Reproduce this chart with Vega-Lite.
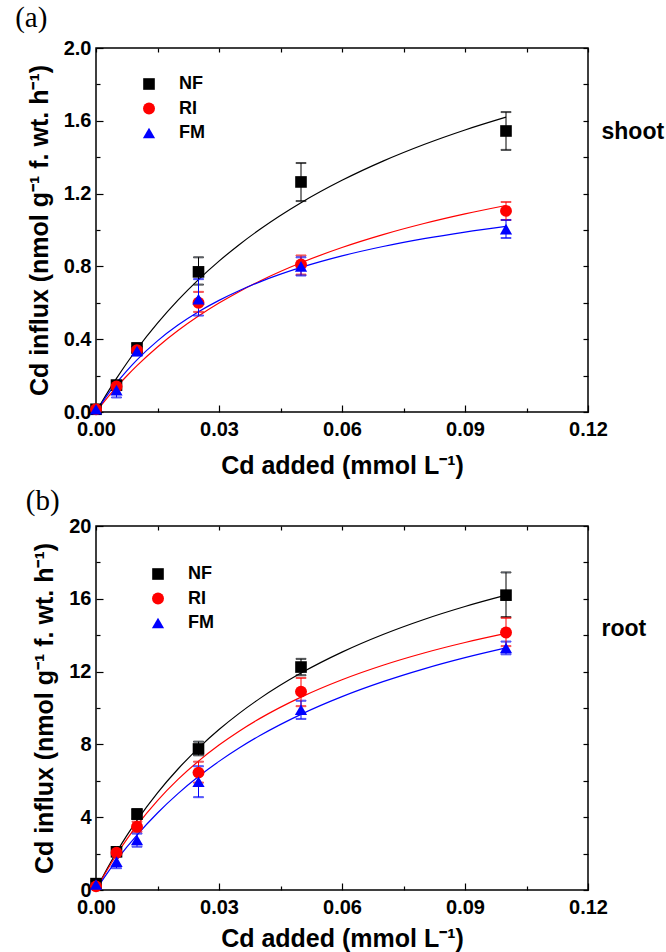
{
  "$schema": "https://vega.github.io/schema/vega-lite/v6.json",
  "background": "white",
  "padding": {"left": 14, "top": 3, "right": 0, "bottom": 0},
  "config": {
    "view": {"stroke": "black", "strokeWidth": 1.5},
    "font": "Liberation Sans",
    "axis": {
      "labelFont": "Liberation Sans", "labelFontWeight": "bold", "labelFontSize": 20, "labelColor": "black",
      "titleFont": "Liberation Sans", "titleFontWeight": "bold", "titleFontSize": 25, "titleColor": "black",
      "grid": false, "domain": false, "tickColor": "black", "tickWidth": 1.2, "labelOverlap": false, "labelFlush": false
    },
    "legend": {
      "labelFont": "Liberation Sans", "labelFontWeight": "bold", "labelFontSize": 18, "labelColor": "black",
      "symbolStrokeWidth": 0, "padding": 0, "rowPadding": 6.5, "labelOffset": 21, "symbolSize": 150
    },
    "title": {"font": "Liberation Serif", "fontSize": 29, "fontWeight": "normal", "anchor": "start", "frame": "bounds", "color": "black"}
  },
  "datasets": {
    "shootPts": [
      {"series": "NF", "x": 0, "y": 0.015, "lo": 0.005, "hi": 0.025},
      {"series": "NF", "x": 0.005, "y": 0.148, "lo": 0.13, "hi": 0.17},
      {"series": "NF", "x": 0.01, "y": 0.352, "lo": 0.33, "hi": 0.375},
      {"series": "NF", "x": 0.025, "y": 0.77, "lo": 0.70, "hi": 0.85},
      {"series": "NF", "x": 0.05, "y": 1.264, "lo": 1.159, "hi": 1.368},
      {"series": "NF", "x": 0.1, "y": 1.544, "lo": 1.44, "hi": 1.648},
      {"series": "RI", "x": 0, "y": 0.015, "lo": 0.005, "hi": 0.025},
      {"series": "RI", "x": 0.005, "y": 0.14, "lo": 0.12, "hi": 0.16},
      {"series": "RI", "x": 0.01, "y": 0.34, "lo": 0.32, "hi": 0.36},
      {"series": "RI", "x": 0.025, "y": 0.60, "lo": 0.55, "hi": 0.66},
      {"series": "RI", "x": 0.05, "y": 0.81, "lo": 0.755, "hi": 0.86},
      {"series": "RI", "x": 0.1, "y": 1.105, "lo": 1.055, "hi": 1.154},
      {"series": "FM", "x": 0, "y": 0.015, "lo": 0.005, "hi": 0.025},
      {"series": "FM", "x": 0.005, "y": 0.12, "lo": 0.08, "hi": 0.16},
      {"series": "FM", "x": 0.01, "y": 0.335, "lo": 0.31, "hi": 0.36},
      {"series": "FM", "x": 0.025, "y": 0.62, "lo": 0.53, "hi": 0.73},
      {"series": "FM", "x": 0.05, "y": 0.80, "lo": 0.75, "hi": 0.85},
      {"series": "FM", "x": 0.1, "y": 1.005, "lo": 0.956, "hi": 1.055}
    ],
    "rootPts": [
      {"series": "NF", "x": 0, "y": 0.35, "lo": 0.2, "hi": 0.5},
      {"series": "NF", "x": 0.005, "y": 2.1, "lo": 1.9, "hi": 2.3},
      {"series": "NF", "x": 0.01, "y": 4.17, "lo": 3.9, "hi": 4.45},
      {"series": "NF", "x": 0.025, "y": 7.75, "lo": 7.4, "hi": 8.15},
      {"series": "NF", "x": 0.05, "y": 12.25, "lo": 11.8, "hi": 12.7},
      {"series": "NF", "x": 0.1, "y": 16.2, "lo": 15.0, "hi": 17.45},
      {"series": "RI", "x": 0, "y": 0.2, "lo": 0.1, "hi": 0.3},
      {"series": "RI", "x": 0.005, "y": 2.05, "lo": 1.85, "hi": 2.25},
      {"series": "RI", "x": 0.01, "y": 3.48, "lo": 3.2, "hi": 3.75},
      {"series": "RI", "x": 0.025, "y": 6.45, "lo": 5.9, "hi": 7.05},
      {"series": "RI", "x": 0.05, "y": 10.9, "lo": 10.1, "hi": 11.65},
      {"series": "RI", "x": 0.1, "y": 14.15, "lo": 13.4, "hi": 14.95},
      {"series": "FM", "x": 0, "y": 0.3, "lo": 0.1, "hi": 0.5},
      {"series": "FM", "x": 0.005, "y": 1.56, "lo": 1.2, "hi": 1.9},
      {"series": "FM", "x": 0.01, "y": 2.75, "lo": 2.38, "hi": 3.1},
      {"series": "FM", "x": 0.025, "y": 5.95, "lo": 5.1, "hi": 6.8},
      {"series": "FM", "x": 0.05, "y": 9.9, "lo": 9.4, "hi": 10.4},
      {"series": "FM", "x": 0.1, "y": 13.3, "lo": 12.95, "hi": 13.65}
    ],
    "shootFit": [
      {"series": "NF", "x": 0, "y": 0}, {"series": "NF", "x": 0.0025, "y": 0.0956}, {"series": "NF", "x": 0.005, "y": 0.1847}, {"series": "NF", "x": 0.0075, "y": 0.268}, {"series": "NF", "x": 0.01, "y": 0.3461}, {"series": "NF", "x": 0.015, "y": 0.4883}, {"series": "NF", "x": 0.02, "y": 0.6146}, {"series": "NF", "x": 0.025, "y": 0.7274}, {"series": "NF", "x": 0.03, "y": 0.8289}, {"series": "NF", "x": 0.035, "y": 0.9207}, {"series": "NF", "x": 0.04, "y": 1.004}, {"series": "NF", "x": 0.05, "y": 1.1498}, {"series": "NF", "x": 0.06, "y": 1.2729}, {"series": "NF", "x": 0.07, "y": 1.3784}, {"series": "NF", "x": 0.08, "y": 1.4697}, {"series": "NF", "x": 0.09, "y": 1.5496}, {"series": "NF", "x": 0.1, "y": 1.62},
      {"series": "RI", "x": 0, "y": 0}, {"series": "RI", "x": 0.0025, "y": 0.0711}, {"series": "RI", "x": 0.005, "y": 0.1369}, {"series": "RI", "x": 0.0075, "y": 0.1979}, {"series": "RI", "x": 0.01, "y": 0.2548}, {"series": "RI", "x": 0.015, "y": 0.3574}, {"series": "RI", "x": 0.02, "y": 0.4476}, {"series": "RI", "x": 0.025, "y": 0.5275}, {"series": "RI", "x": 0.03, "y": 0.5987}, {"series": "RI", "x": 0.035, "y": 0.6626}, {"series": "RI", "x": 0.04, "y": 0.7202}, {"series": "RI", "x": 0.05, "y": 0.8201}, {"series": "RI", "x": 0.06, "y": 0.9037}, {"series": "RI", "x": 0.07, "y": 0.9746}, {"series": "RI", "x": 0.08, "y": 1.0356}, {"series": "RI", "x": 0.09, "y": 1.0885}, {"series": "RI", "x": 0.1, "y": 1.1349},
      {"series": "FM", "x": 0, "y": 0}, {"series": "FM", "x": 0.0025, "y": 0.0844}, {"series": "FM", "x": 0.005, "y": 0.1594}, {"series": "FM", "x": 0.0075, "y": 0.2264}, {"series": "FM", "x": 0.01, "y": 0.2867}, {"series": "FM", "x": 0.015, "y": 0.3908}, {"series": "FM", "x": 0.02, "y": 0.4774}, {"series": "FM", "x": 0.025, "y": 0.5506}, {"series": "FM", "x": 0.03, "y": 0.6133}, {"series": "FM", "x": 0.035, "y": 0.6677}, {"series": "FM", "x": 0.04, "y": 0.7152}, {"series": "FM", "x": 0.05, "y": 0.7943}, {"series": "FM", "x": 0.06, "y": 0.8576}, {"series": "FM", "x": 0.07, "y": 0.9093}, {"series": "FM", "x": 0.08, "y": 0.9524}, {"series": "FM", "x": 0.09, "y": 0.9888}, {"series": "FM", "x": 0.1, "y": 1.02}
    ],
    "rootFit": [
      {"series": "NF", "x": 0, "y": 0}, {"series": "NF", "x": 0.0025, "y": 1.08}, {"series": "NF", "x": 0.005, "y": 2.071}, {"series": "NF", "x": 0.0075, "y": 2.985}, {"series": "NF", "x": 0.01, "y": 3.829}, {"series": "NF", "x": 0.015, "y": 5.339}, {"series": "NF", "x": 0.02, "y": 6.65}, {"series": "NF", "x": 0.025, "y": 7.799}, {"series": "NF", "x": 0.03, "y": 8.815}, {"series": "NF", "x": 0.035, "y": 9.719}, {"series": "NF", "x": 0.04, "y": 10.529}, {"series": "NF", "x": 0.05, "y": 11.92}, {"series": "NF", "x": 0.06, "y": 13.071}, {"series": "NF", "x": 0.07, "y": 14.039}, {"series": "NF", "x": 0.08, "y": 14.865}, {"series": "NF", "x": 0.09, "y": 15.577}, {"series": "NF", "x": 0.1, "y": 16.199},
      {"series": "RI", "x": 0, "y": 0}, {"series": "RI", "x": 0.0025, "y": 1.016}, {"series": "RI", "x": 0.005, "y": 1.938}, {"series": "RI", "x": 0.0075, "y": 2.779}, {"series": "RI", "x": 0.01, "y": 3.55}, {"series": "RI", "x": 0.015, "y": 4.911}, {"series": "RI", "x": 0.02, "y": 6.075}, {"series": "RI", "x": 0.025, "y": 7.083}, {"series": "RI", "x": 0.03, "y": 7.963}, {"series": "RI", "x": 0.035, "y": 8.74}, {"series": "RI", "x": 0.04, "y": 9.429}, {"series": "RI", "x": 0.05, "y": 10.599}, {"series": "RI", "x": 0.06, "y": 11.555}, {"series": "RI", "x": 0.07, "y": 12.351}, {"series": "RI", "x": 0.08, "y": 13.024}, {"series": "RI", "x": 0.09, "y": 13.6}, {"series": "RI", "x": 0.1, "y": 14.099},
      {"series": "FM", "x": 0, "y": 0}, {"series": "FM", "x": 0.0025, "y": 0.845}, {"series": "FM", "x": 0.005, "y": 1.625}, {"series": "FM", "x": 0.0075, "y": 2.349}, {"series": "FM", "x": 0.01, "y": 3.021}, {"series": "FM", "x": 0.015, "y": 4.233}, {"series": "FM", "x": 0.02, "y": 5.295}, {"series": "FM", "x": 0.025, "y": 6.233}, {"series": "FM", "x": 0.03, "y": 7.067}, {"series": "FM", "x": 0.035, "y": 7.815}, {"series": "FM", "x": 0.04, "y": 8.488}, {"series": "FM", "x": 0.05, "y": 9.652}, {"series": "FM", "x": 0.06, "y": 10.624}, {"series": "FM", "x": 0.07, "y": 11.447}, {"series": "FM", "x": 0.08, "y": 12.153}, {"series": "FM", "x": 0.09, "y": 12.766}, {"series": "FM", "x": 0.1, "y": 13.302}
    ]
  },
  "spacing": 7,
  "resolve": {"scale": {"color": "independent", "shape": "independent", "size": "independent"}, "legend": {"color": "independent", "shape": "independent", "size": "independent"}},
  "vconcat": [
    {
      "width": 492, "height": 364,
      "title": {"text": "(a)", "dx": -12, "offset": 5},
      "resolve": {"axis": {"x": "independent", "y": "independent"}},
      "layer": [
        {
          "data": {"name": "shootFit"},
          "mark": {"type": "line", "strokeWidth": 1.2, "interpolate": "monotone"},
          "encoding": {
            "x": {"field": "x", "type": "quantitative", "scale": {"domain": [0, 0.12], "nice": false},
              "axis": {"orient": "bottom", "values": [0, 0.015, 0.03, 0.045, 0.06, 0.075, 0.09, 0.105, 0.12],
                "labelExpr": "abs(datum.value/0.03 - round(datum.value/0.03)) < 0.001 ? format(datum.value, '.2f') : ''",
                "tickSize": {"condition": {"test": "abs(datum.value/0.03 - round(datum.value/0.03)) < 0.001", "value": -7}, "value": -4},
                "labelPadding": 14, "titlePadding": 11, "title": "Cd added (mmol L⁻¹)"}},
            "y": {"field": "y", "type": "quantitative", "scale": {"domain": [0, 2], "nice": false},
              "axis": {"orient": "left", "values": [0, 0.2, 0.4, 0.6, 0.8, 1.0, 1.2, 1.4, 1.6, 1.8, 2.0],
                "labelExpr": "abs(datum.value/0.4 - round(datum.value/0.4)) < 0.001 ? format(datum.value, '.1f') : ''",
                "tickSize": {"condition": {"test": "abs(datum.value/0.4 - round(datum.value/0.4)) < 0.001", "value": -7}, "value": -4},
                "labelPadding": 12, "titlePadding": 11, "title": "Cd influx (nmol g⁻¹ f. wt. h⁻¹)"}},
            "stroke": {"field": "series", "type": "nominal", "scale": {"domain": ["NF", "RI", "FM"], "range": ["#000000", "#ff0000", "#0000ff"]}, "legend": null}
          }
        },
        {
          "data": {"name": "shootPts"},
          "mark": {"type": "errorbar", "ticks": {"size": 10, "thickness": 1}, "thickness": 1},
          "encoding": {
            "x": {"field": "x", "type": "quantitative", "scale": {"domain": [0, 0.12], "nice": false}, "axis": null},
            "y": {"field": "lo", "type": "quantitative", "scale": {"domain": [0, 2], "nice": false}, "axis": null},
            "y2": {"field": "hi"},
            "stroke": {"field": "series", "type": "nominal", "scale": {"domain": ["NF", "RI", "FM"], "range": ["#000000", "#ff0000", "#0000ff"]}, "legend": null}
          }
        },
        {
          "data": {"name": "shootPts"},
          "mark": {"type": "point", "filled": true, "opacity": 1},
          "encoding": {
            "x": {"field": "x", "type": "quantitative", "scale": {"domain": [0, 0.12], "nice": false},
              "axis": {"orient": "top", "values": [0, 0.015, 0.03, 0.045, 0.06, 0.075, 0.09, 0.105, 0.12], "labels": false, "tickSize": -4, "title": null}},
            "y": {"field": "y", "type": "quantitative", "scale": {"domain": [0, 2], "nice": false},
              "axis": {"orient": "right", "values": [0, 0.2, 0.4, 0.6, 0.8, 1.0, 1.2, 1.4, 1.6, 1.8, 2.0], "labels": false, "tickSize": -5,
                "title": "shoot", "titleAngle": 0, "titleAlign": "left", "titleBaseline": "middle", "titleX": 13, "titleY": 83, "titleFontSize": 23}},
            "color": {"field": "series", "type": "nominal", "scale": {"domain": ["NF", "RI", "FM"], "range": ["#000000", "#ff0000", "#0000ff"]},
              "legend": {"orient": "none", "legendX": 44, "legendY": 27, "title": null}},
            "shape": {"field": "series", "type": "nominal", "scale": {"domain": ["NF", "RI", "FM"], "range": ["square", "circle", "triangle-up"]},
              "legend": {"orient": "none", "legendX": 44, "legendY": 27, "title": null}},
            "size": {"field": "series", "type": "nominal", "scale": {"domain": ["NF", "RI", "FM"], "range": [135, 150, 195]},
              "legend": {"orient": "none", "legendX": 44, "legendY": 27, "title": null}}
          }
        }
      ]
    },
    {
      "width": 492, "height": 364,
      "title": {"text": "(b)", "dx": -7, "offset": 0},
      "resolve": {"axis": {"x": "independent", "y": "independent"}},
      "layer": [
        {
          "data": {"name": "rootFit"},
          "mark": {"type": "line", "strokeWidth": 1.2, "interpolate": "monotone"},
          "encoding": {
            "x": {"field": "x", "type": "quantitative", "scale": {"domain": [0, 0.12], "nice": false},
              "axis": {"orient": "bottom", "values": [0, 0.015, 0.03, 0.045, 0.06, 0.075, 0.09, 0.105, 0.12],
                "labelExpr": "abs(datum.value/0.03 - round(datum.value/0.03)) < 0.001 ? format(datum.value, '.2f') : ''",
                "tickSize": {"condition": {"test": "abs(datum.value/0.03 - round(datum.value/0.03)) < 0.001", "value": -7}, "value": -4},
                "labelPadding": 14, "titlePadding": 6, "title": "Cd added (mmol L⁻¹)"}},
            "y": {"field": "y", "type": "quantitative", "scale": {"domain": [0, 20], "nice": false},
              "axis": {"orient": "left", "values": [0, 2, 4, 6, 8, 10, 12, 14, 16, 18, 20],
                "labelExpr": "datum.value % 4 === 0 ? format(datum.value, 'd') : ''",
                "tickSize": {"condition": {"test": "datum.value % 4 === 0", "value": -7}, "value": -4},
                "labelPadding": 12, "titlePadding": 11, "title": "Cd influx (nmol g⁻¹ f. wt. h⁻¹)"}},
            "stroke": {"field": "series", "type": "nominal", "scale": {"domain": ["NF", "RI", "FM"], "range": ["#000000", "#ff0000", "#0000ff"]}, "legend": null}
          }
        },
        {
          "data": {"name": "rootPts"},
          "mark": {"type": "errorbar", "ticks": {"size": 10, "thickness": 1}, "thickness": 1},
          "encoding": {
            "x": {"field": "x", "type": "quantitative", "scale": {"domain": [0, 0.12], "nice": false}, "axis": null},
            "y": {"field": "lo", "type": "quantitative", "scale": {"domain": [0, 20], "nice": false}, "axis": null},
            "y2": {"field": "hi"},
            "stroke": {"field": "series", "type": "nominal", "scale": {"domain": ["NF", "RI", "FM"], "range": ["#000000", "#ff0000", "#0000ff"]}, "legend": null}
          }
        },
        {
          "data": {"name": "rootPts"},
          "mark": {"type": "point", "filled": true, "opacity": 1},
          "encoding": {
            "x": {"field": "x", "type": "quantitative", "scale": {"domain": [0, 0.12], "nice": false},
              "axis": {"orient": "top", "values": [0, 0.015, 0.03, 0.045, 0.06, 0.075, 0.09, 0.105, 0.12], "labels": false, "tickSize": -4, "title": null}},
            "y": {"field": "y", "type": "quantitative", "scale": {"domain": [0, 20], "nice": false},
              "axis": {"orient": "right", "values": [0, 2, 4, 6, 8, 10, 12, 14, 16, 18, 20], "labels": false, "tickSize": -5,
                "title": "root", "titleAngle": 0, "titleAlign": "left", "titleBaseline": "middle", "titleX": 13, "titleY": 102, "titleFontSize": 23}},
            "color": {"field": "series", "type": "nominal", "scale": {"domain": ["NF", "RI", "FM"], "range": ["#000000", "#ff0000", "#0000ff"]},
              "legend": {"orient": "none", "legendX": 53, "legendY": 39, "title": null}},
            "shape": {"field": "series", "type": "nominal", "scale": {"domain": ["NF", "RI", "FM"], "range": ["square", "circle", "triangle-up"]},
              "legend": {"orient": "none", "legendX": 53, "legendY": 39, "title": null}},
            "size": {"field": "series", "type": "nominal", "scale": {"domain": ["NF", "RI", "FM"], "range": [135, 150, 195]},
              "legend": {"orient": "none", "legendX": 53, "legendY": 39, "title": null}}
          }
        }
      ]
    }
  ]
}
